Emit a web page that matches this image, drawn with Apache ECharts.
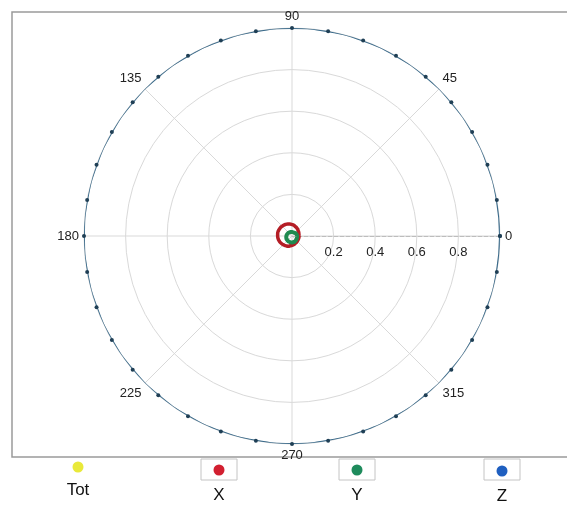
<!DOCTYPE html>
<html>
<head>
<meta charset="utf-8">
<script src="https://cdn.jsdelivr.net/npm/echarts@6/dist/echarts.min.js"></script>
<style>
  html, body { margin: 0; padding: 0; background: #fff; }
  #chart { width: 567px; height: 506px; }
</style>
</head>
<body>
<div id="chart"></div>
<script>
// Angle ticks (degrees) and radial ticks
const angleTicks = [0, 45, 90, 135, 180, 225, 270, 315];
const radiusTicks = [0.2, 0.4, 0.6, 0.8];

// Sample angles, every 10 degrees round the circle
const angles = [0, 10, 20, 30, 40, 50, 60, 70, 80, 90, 100, 110, 120, 130, 140, 150, 160, 170,
                180, 190, 200, 210, 220, 230, 240, 250, 260, 270, 280, 290, 300, 310, 320, 330, 340, 350, 360];

// Normalised magnitudes per axis
const totValues = [];
const xValues = [0.034, 0.034, 0.035, 0.037, 0.039, 0.042, 0.045, 0.048, 0.052, 0.055, 0.058, 0.061,
                 0.064, 0.066, 0.068, 0.069, 0.070, 0.070, 0.069, 0.068, 0.066, 0.064, 0.061, 0.058,
                 0.055, 0.052, 0.048, 0.045, 0.042, 0.040, 0.038, 0.036, 0.035, 0.034, 0.034, 0.034, 0.034];
const yValues = [0.024, 0.024, 0.023, 0.022, 0.021, 0.020, 0.019, 0.019, 0.019, 0.019, 0.019, 0.020,
                 0.021, 0.022, 0.023, 0.024, 0.025, 0.026, 0.027, 0.028, 0.029, 0.030, 0.030, 0.031,
                 0.031, 0.031, 0.031, 0.031, 0.030, 0.030, 0.029, 0.028, 0.027, 0.026, 0.025, 0.025, 0.024];
const zValues = [1, 1, 1, 1, 1, 1, 1, 1, 1, 1, 1, 1, 1, 1, 1, 1, 1, 1,
                 1, 1, 1, 1, 1, 1, 1, 1, 1, 1, 1, 1, 1, 1, 1, 1, 1, 1, 1];

const seriesNames = ['Tot', 'X', 'Y', 'Z'];
const legendColors = ['#e9e93a', '#d21f30', '#1e8b5c', '#1f5fc0'];

const pairs = vals => vals.map((r, i) => [r, angles[i]]);

const chart = echarts.init(document.getElementById('chart'), null, { renderer: 'canvas' });

// One legend block per series: dot on top, name underneath
const legendSpots = [
  { cx: 78, cy: 467, ty: 490 },
  { cx: 219, cy: 470, ty: 495 },
  { cx: 357, cy: 470, ty: 495 },
  { cx: 502, cy: 471, ty: 496 }
];
const iconSize = 11;
const legends = seriesNames.map((name, i) => {
  const s = legendSpots[i];
  return {
    data: [{ name: name, itemStyle: { color: legendColors[i] } }],
    left: s.cx - iconSize / 2,
    top: s.cy - iconSize / 2,
    padding: 0,
    icon: 'circle',
    itemWidth: iconSize,
    itemHeight: iconSize,
    itemGap: 0,
    selectedMode: false,
    formatter: () => '',
    textStyle: { fontSize: 1 }
  };
});

const legendNames = seriesNames.map((name, i) => ({
  type: 'text',
  x: legendSpots[i].cx,
  y: legendSpots[i].ty,
  style: {
    text: name,
    fill: '#111',
    font: '17px "Liberation Sans", Arial, sans-serif',
    align: 'center',
    verticalAlign: 'middle'
  }
}));

const boxes = [219, 357, 502].map(cx => ({
  type: 'rect',
  shape: { x: cx - 18, y: 459, width: 36, height: 21 },
  style: { fill: 'none', stroke: '#c4c4c4', lineWidth: 1 },
  z: -1
}));

chart.setOption({
  backgroundColor: '#fff',
  animation: false,
  graphic: [
    {
      type: 'rect',
      shape: { x: 12, y: 12, width: 580, height: 445 },
      style: { fill: 'none', stroke: '#9a9a9a', lineWidth: 1.5 },
      z: -2
    }
  ].concat(boxes, legendNames),
  legend: legends,
  polar: { center: [292, 236], radius: 208 },
  angleAxis: {
    type: 'value',
    min: 0,
    max: 360,
    interval: 45,
    startAngle: 0,
    clockwise: false,
    axisLine: { show: false },
    axisTick: { show: false },
    axisLabel: {
      margin: 5,
      fontFamily: 'Liberation Sans, Arial, sans-serif',
      fontSize: 13,
      color: '#222',
      formatter: v => (angleTicks.indexOf(v) >= 0 ? String(v) : '')
    },
    splitLine: { show: true, lineStyle: { color: '#d9d9d9', width: 1 } }
  },
  radiusAxis: {
    type: 'value',
    min: 0,
    max: 1,
    interval: 0.2,
    axisLine: { show: true, lineStyle: { color: '#bdbdbd', type: 'dashed', width: 1 } },
    axisTick: { show: false },
    axisLabel: {
      margin: -23,
      fontFamily: 'Liberation Sans, Arial, sans-serif',
      fontSize: 13,
      color: '#222',
      formatter: v => {
        const r = Math.round(v * 10) / 10;
        return radiusTicks.indexOf(r) >= 0 ? String(r) : '';
      }
    },
    splitLine: { show: true, lineStyle: { color: '#d9d9d9', width: 1 } }
  },
  series: [
    {
      name: 'Tot', type: 'line', coordinateSystem: 'polar',
      data: pairs(totValues), showSymbol: false,
      itemStyle: { color: legendColors[0] }, lineStyle: { color: legendColors[0] }
    },
    {
      name: 'X', type: 'line', coordinateSystem: 'polar',
      data: pairs(xValues), showSymbol: false, smooth: true,
      itemStyle: { color: '#b41d25' }, lineStyle: { color: '#b41d25', width: 3.5 }, z: 3
    },
    {
      name: 'Y', type: 'line', coordinateSystem: 'polar',
      data: pairs(yValues), showSymbol: false, smooth: true,
      itemStyle: { color: '#1f8a50' }, lineStyle: { color: '#1f8a50', width: 4 }, z: 4
    },
    {
      name: 'Z', type: 'line', coordinateSystem: 'polar',
      data: pairs(zValues), showSymbol: true, showAllSymbol: true, symbol: 'circle', symbolSize: 4,
      smooth: true, clip: false,
      itemStyle: { color: '#1f3f55' }, lineStyle: { color: '#3a6a8a', width: 2 }, z: 5
    }
  ]
});
</script>
</body>
</html>
